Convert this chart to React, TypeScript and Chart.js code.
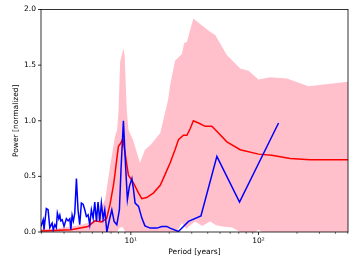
import React, { useEffect, useRef } from "react";
import { Chart, registerables } from "chart.js";

Chart.register(...registerables);

// Blue periodogram
const bluePeriod = [
  1.98, 2.06, 2.09, 2.18, 2.25, 2.32, 2.42, 2.47, 2.54, 2.61, 2.66, 2.73, 2.78, 2.83, 2.9,
  3.0, 3.13, 3.23, 3.33, 3.39, 3.47, 3.55, 3.64, 3.75, 3.86, 3.98, 4.1, 4.23, 4.36, 4.49,
  4.63, 4.77, 4.91, 5.07, 5.22, 5.38, 5.54, 5.71, 5.88, 6.07, 6.25, 6.49, 6.8, 7.1, 7.4,
  7.77, 8.14, 8.4, 8.75, 9.02, 9.4, 9.75, 10.2, 10.5, 10.8, 11.5, 12.2, 12.9, 14.2, 16.0,
  17.5, 19.1, 20.3, 23.6, 28.3, 35.4, 47.2, 71.0, 143.5,
];
const bluePower = [
  0.05, 0.11, 0.02, 0.21, 0.2, 0.04, 0.08, 0.02, 0.065, 0.04, 0.17, 0.12, 0.15, 0.1, 0.11,
  0.05, 0.12, 0.1, 0.12, 0.02, 0.15, 0.1, 0.17, 0.48, 0.2, 0.065, 0.26, 0.25, 0.2, 0.14,
  0.155, 0.065, 0.2, 0.125, 0.27, 0.095, 0.27, 0.1, 0.26, 0.12, 0.2, 0.0, 0.11, 0.2, 0.095,
  0.065, 0.2, 0.59, 1.0, 0.68, 0.29, 0.41, 0.48, 0.38, 0.26, 0.23, 0.125, 0.055, 0.035, 0.035,
  0.05, 0.05, 0.035, 0.005, 0.095, 0.145, 0.68, 0.27, 0.98,
];

// Red mean spectrum
const redPeriod = [
  1.98, 3.4, 4.63, 5.22, 5.88, 6.46, 6.88, 7.31, 7.53, 7.81, 8.0, 8.35, 8.66, 9.02, 9.58,
  10.5, 11.5, 12.2, 13.3, 15.0, 17.0, 18.6, 20.3, 22.2, 23.6, 25.8, 27.5, 29.2, 30.9, 33.9,
  38.2, 43.1, 48.6, 56.5, 71.9, 100, 127, 177, 254, 502,
];
const redPower = [
  0.01, 0.02, 0.05, 0.1, 0.09, 0.12, 0.25, 0.42, 0.53, 0.68, 0.77, 0.8, 0.84, 0.71, 0.51,
  0.44, 0.35, 0.3, 0.31, 0.35, 0.42, 0.52, 0.62, 0.74, 0.83, 0.87, 0.87, 0.93, 1.0, 0.98,
  0.95, 0.95, 0.89, 0.81, 0.74, 0.7, 0.69, 0.66, 0.65, 0.65,
];

// Pink confidence band
const bandUpperPeriod = [
  1.98, 2.5, 3.0, 3.4, 4.0, 4.6, 5.2, 5.5, 5.75, 6.29, 6.88, 7.53, 7.81, 8.0, 8.25, 8.5,
  8.75, 8.94, 9.3, 9.58, 10.4, 11.8, 12.9, 14.2, 17.0, 19.6, 20.3, 22.2, 25.1, 26.2, 27.5,
  30.9, 34.9, 41.8, 45.8, 56.5, 71.9, 83.5, 100, 123.6, 167, 246, 502,
];
const bandUpper = [
  0.03, 0.03, 0.04, 0.05, 0.06, 0.08, 0.1, 0.13, 0.2, 0.29, 0.59, 0.86, 0.92, 1.08, 1.53, 1.59,
  1.65, 1.59, 1.1, 0.92, 0.83, 0.62, 0.74, 0.78, 0.89, 1.19, 1.32, 1.54, 1.6, 1.7, 1.71,
  1.92, 1.87, 1.8, 1.77, 1.59, 1.47, 1.45, 1.37, 1.39, 1.38, 1.31, 1.35,
];
const bandLowerPeriod = [
  1.98, 7.8, 8.2, 8.6, 9.1, 22.9, 25.1, 27.2, 29.2, 31.9, 36.2, 41.8, 46.6, 52, 62.2, 71.9,
  94, 99.7, 107, 502,
];
const bandLower = [
  0, 0, 0.04, 0.045, 0, 0, 0.08, 0.03, 0.06, 0.095, 0.055, 0.095, 0.06, 0.05, 0.04, 0,
  0, 0.02, 0, 0,
];

const yTicks = [0, 0.5, 1.0, 1.5, 2.0];
const xMajorTicks = [10, 100];
const xTickLabels = ["10¹", "10²"];
const xMinorTicks = [2, 3, 4, 5, 6, 7, 8, 9, 20, 30, 40, 50, 60, 70, 80, 90, 200, 300, 400, 500];

const pts = (xs: number[], ys: number[]) => xs.map((x, i) => ({ x, y: ys[i] }));

const FONT = "'DejaVu Sans', sans-serif";

const framePlugin = {
  id: "frame",
  afterDatasetsDraw(chart: any) {
    const { ctx, chartArea: a, scales } = chart;
    const x = scales.x;
    const y = scales.y;
    ctx.save();
    ctx.strokeStyle = "#000";
    ctx.lineWidth = 0.8;
    ctx.strokeRect(a.left, a.top, a.right - a.left, a.bottom - a.top);
    ctx.beginPath();
    yTicks.forEach((v) => {
      const py = y.getPixelForValue(v);
      ctx.moveTo(a.left, py);
      ctx.lineTo(a.left - 3, py);
    });
    xMajorTicks.forEach((v) => {
      const px = x.getPixelForValue(v);
      ctx.moveTo(px, a.bottom);
      ctx.lineTo(px, a.bottom + 3);
    });
    ctx.stroke();
    ctx.lineWidth = 0.6;
    ctx.beginPath();
    xMinorTicks.forEach((v) => {
      const px = x.getPixelForValue(v);
      ctx.moveTo(px, a.bottom);
      ctx.lineTo(px, a.bottom + 1.8);
    });
    ctx.stroke();
    ctx.restore();
  },
};

export default function App() {
  const ref = useRef<HTMLCanvasElement | null>(null);
  useEffect(() => {
    if (!ref.current) return;
    const chart = new Chart(ref.current, {
      type: "line",
      data: {
        datasets: [
          {
            label: "blue",
            data: pts(bluePeriod, bluePower),
            borderColor: "blue",
            borderWidth: 1.5,
            pointRadius: 0,
            fill: false,
            tension: 0,
          },
          {
            label: "red",
            data: pts(redPeriod, redPower),
            borderColor: "red",
            borderWidth: 1.5,
            pointRadius: 0,
            fill: false,
            tension: 0,
          },
          {
            label: "upper",
            data: pts(bandUpperPeriod, bandUpper),
            borderColor: "pink",
            borderWidth: 0,
            backgroundColor: "pink",
            pointRadius: 0,
            fill: "+1",
            tension: 0,
          },
          {
            label: "lower",
            data: pts(bandLowerPeriod, bandLower),
            borderColor: "rgba(0,0,0,0)",
            borderWidth: 0,
            pointRadius: 0,
            fill: false,
            tension: 0,
          },
        ],
      },
      options: {
        animation: false,
        responsive: false,
        devicePixelRatio: 1,
        parsing: true,
        layout: { padding: { top: 9, right: 9, left: 0, bottom: 0 } },
        plugins: {
          legend: { display: false },
          tooltip: { enabled: false },
        },
        scales: {
          x: {
            type: "logarithmic",
            min: 1.98,
            max: 502,
            grid: { display: false, drawTicks: false },
            border: { display: false },
            afterBuildTicks: (s: any) => {
              s.ticks = xMajorTicks.map((v) => ({ value: v, major: true }));
            },
            afterFit: (s: any) => {
              s.height = 35;
            },
            ticks: {
              autoSkip: false,
              maxRotation: 0,
              padding: 5,
              color: "#000",
              font: { family: FONT, size: 7.5 },
              callback: (v: any) => {
                const i = xMajorTicks.indexOf(Number(v));
                return i >= 0 ? xTickLabels[i] : "";
              },
            },
            title: {
              display: true,
              text: "Period [years]",
              color: "#000",
              font: { family: FONT, size: 7.5 },
              padding: { top: 0, bottom: 10 },
            },
          },
          y: {
            type: "linear",
            min: 0,
            max: 2,
            grid: { display: false, drawTicks: false },
            border: { display: false },
            afterBuildTicks: (s: any) => {
              s.ticks = yTicks.map((v) => ({ value: v }));
            },
            afterFit: (s: any) => {
              s.width = 41;
            },
            ticks: {
              padding: 5,
              color: "#000",
              font: { family: FONT, size: 7.5 },
              callback: (v: any) => Number(v).toFixed(1),
            },
            title: {
              display: true,
              text: "Power [normalized]",
              color: "#000",
              font: { family: FONT, size: 7.5 },
              padding: { top: 12, bottom: 0 },
            },
          },
        },
      },
      plugins: [framePlugin],
    });
    return () => chart.destroy();
  }, []);
  return (
    <div style={{ position: "absolute", left: 0, top: 0, width: 357, height: 267, background: "#fff" }}>
      <canvas ref={ref} width={357} height={267} />
    </div>
  );
}
